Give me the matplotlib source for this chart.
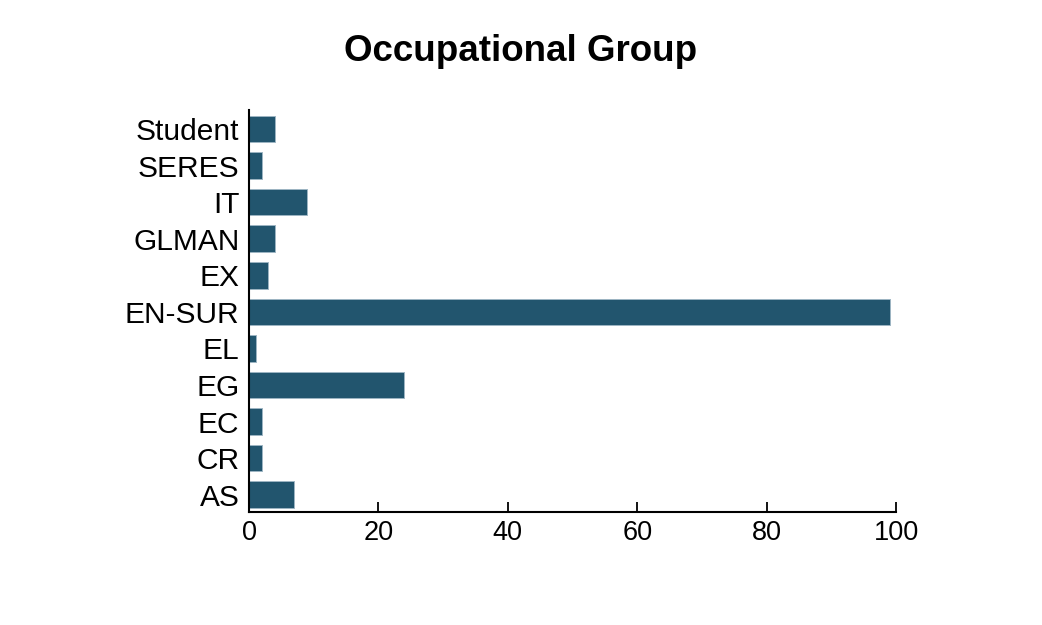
import numpy as np
import matplotlib
matplotlib.use("Agg")
import matplotlib.pyplot as plt

# occupational groups, bottom to top
groups = ['AS', 'CR', 'EC', 'EG', 'EL', 'EN-SUR', 'EX', 'GLMAN', 'IT', 'SERES', 'Student']
counts = [7, 2, 2, 24, 1, 99, 3, 4, 9, 2, 4]
xticks = [0, 20, 40, 60, 80, 100]

plt.rcParams['font.family'] = ['Liberation Sans', 'DejaVu Sans']

fig = plt.figure(figsize=(10.42, 6.25), dpi=100)
ax = fig.add_axes([0.239, 0.181, 0.621, 0.643])

y = np.arange(len(groups))
ax.barh(y, counts, height=0.73, color='#22556e', edgecolor='#9db5c3', linewidth=0.7)

ax.set_yticks(y)
ax.set_yticklabels(groups, fontsize=21.5)
ax.set_xticks(xticks)
ax.set_xticklabels([str(t) for t in xticks], fontsize=19.5)
ax.set_xlim(0, 100)
ax.set_ylim(-0.47, len(groups) - 0.48)

ax.spines['top'].set_visible(False)
ax.spines['right'].set_visible(False)
ax.spines['left'].set_linewidth(1.5)
ax.spines['bottom'].set_linewidth(1.5)
ax.tick_params(axis='y', length=0, pad=7)
ax.tick_params(axis='x', direction='in', length=7, width=1.3, pad=6)

fig.suptitle('Occupational Group', fontsize=26.5, fontweight='bold', x=0.5, y=0.945)

fig.savefig('out.png', dpi=100)
